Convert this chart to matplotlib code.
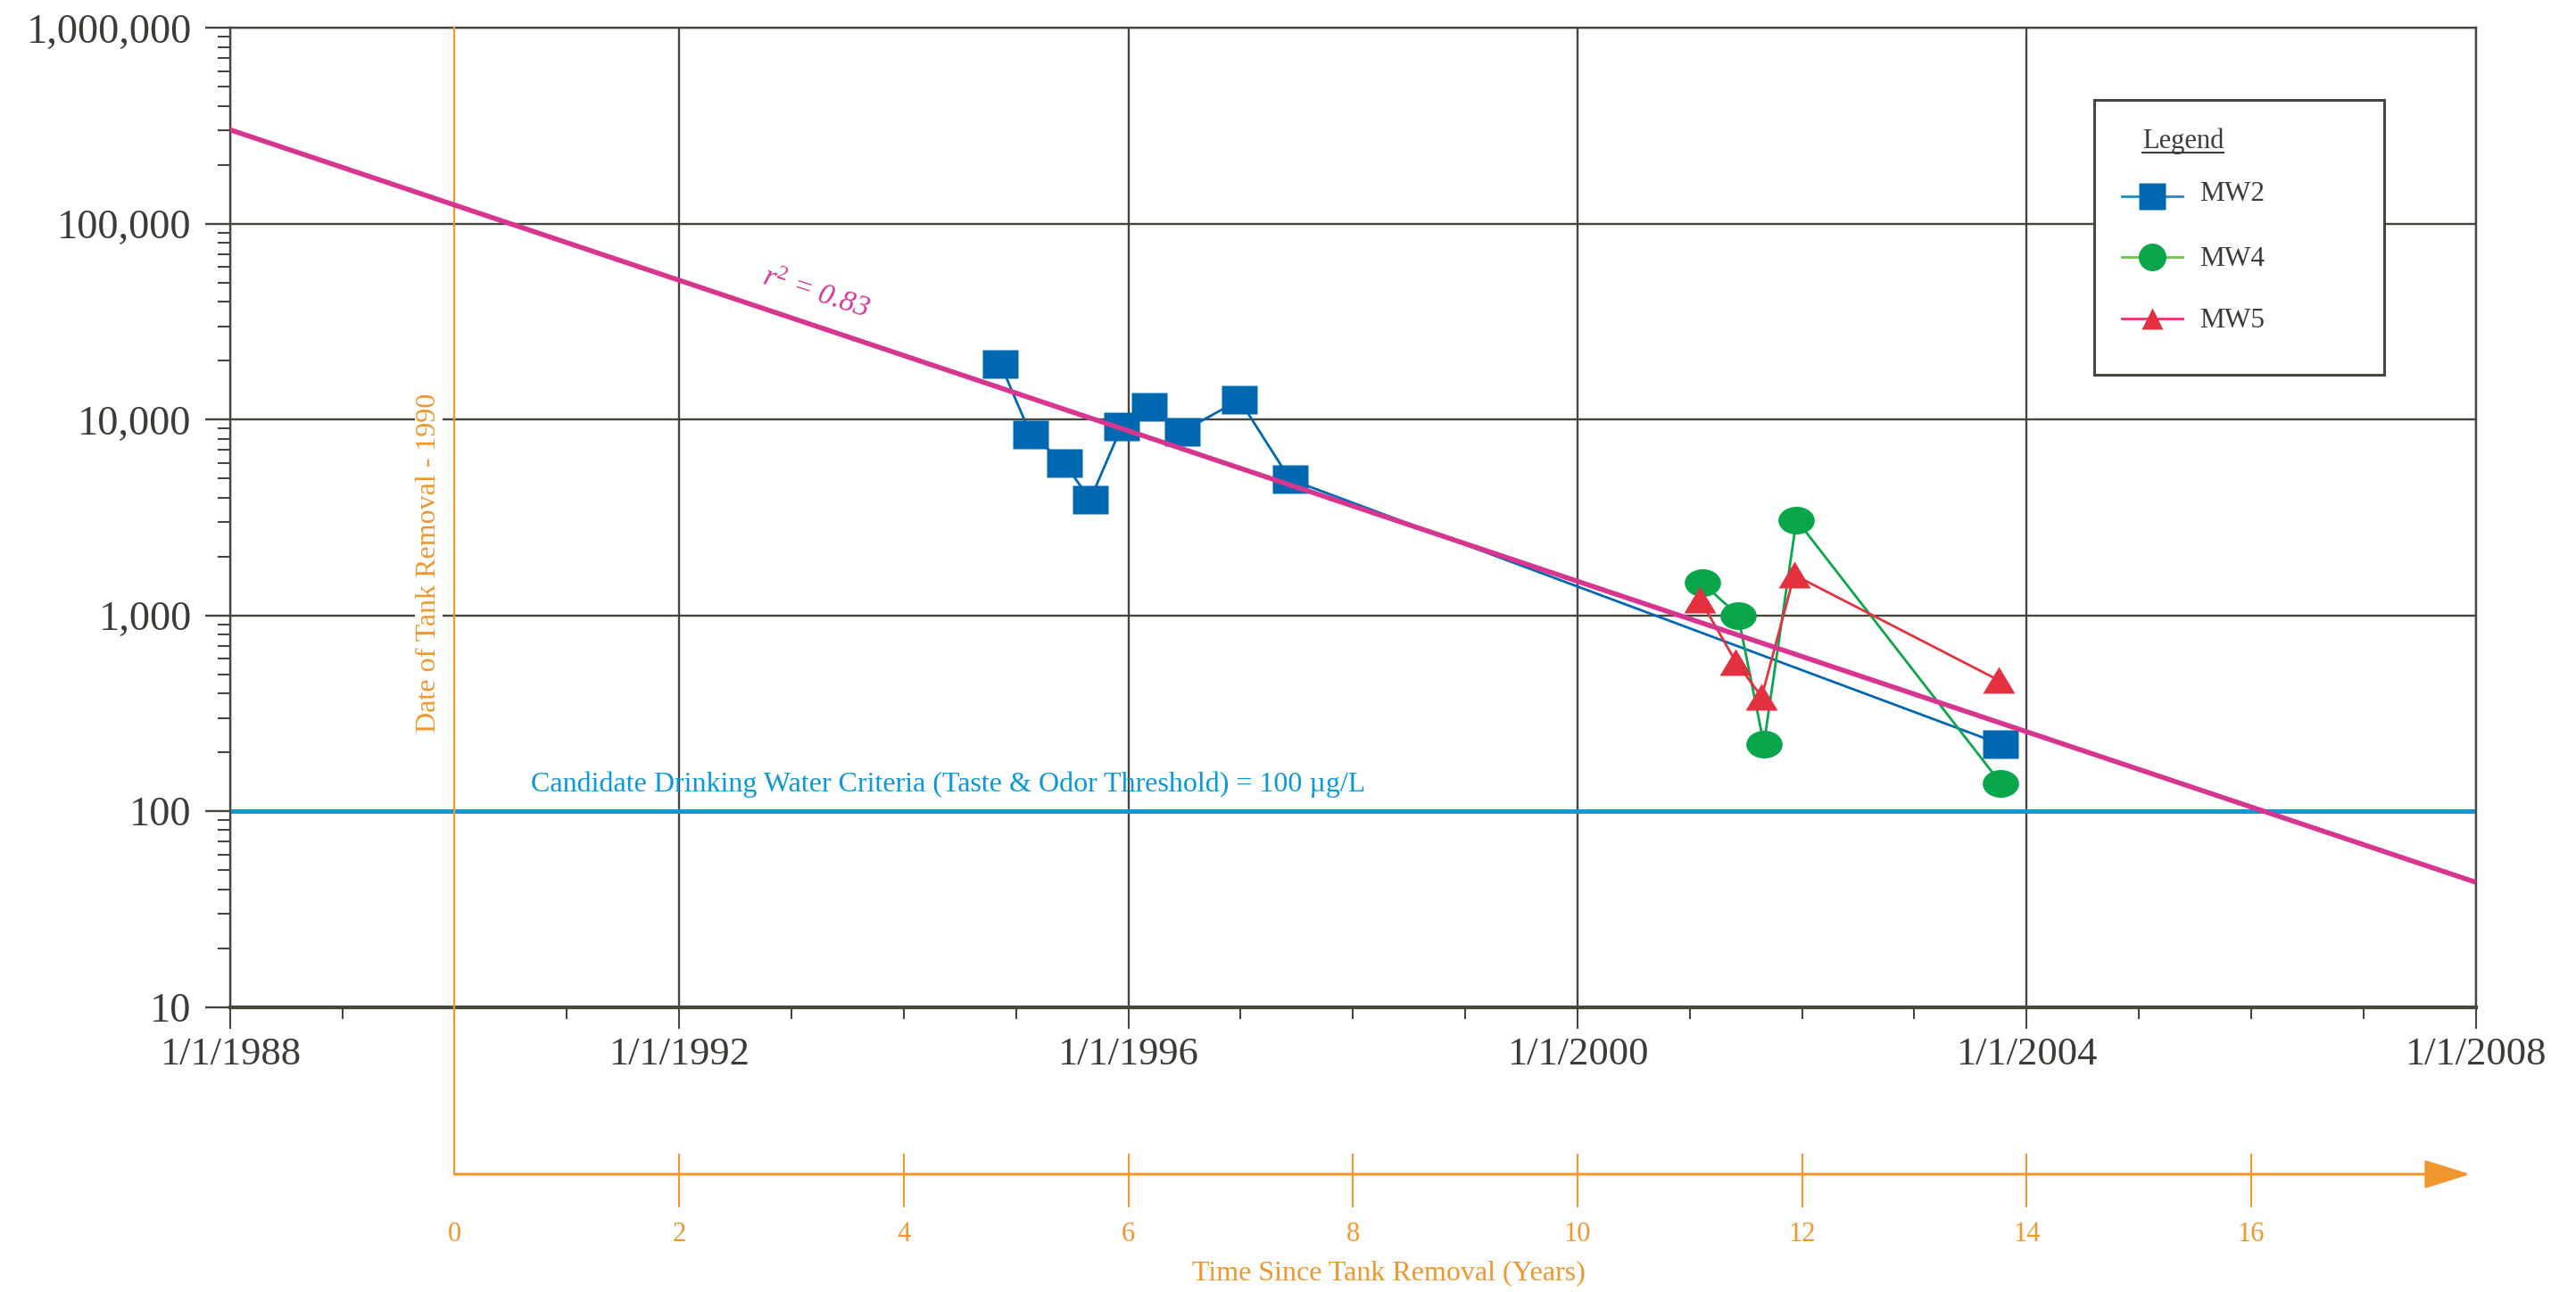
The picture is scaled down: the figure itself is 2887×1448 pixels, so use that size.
import matplotlib
matplotlib.use('Agg')
import matplotlib.pyplot as plt
import numpy as np
from matplotlib.path import Path
from matplotlib.lines import Line2D
from matplotlib.patches import Rectangle
import matplotlib.transforms as mtransforms
from matplotlib.ticker import FixedLocator, LogLocator, NullFormatter

# ---------------- data ----------------
mw2_year = [1994.86, 1995.13, 1995.43, 1995.66, 1995.94, 1996.19, 1996.48, 1996.99, 1997.44, 2003.77]
mw2_conc = [19300, 8400, 6000, 3900, 9200, 11600, 8700, 12600, 4950, 220]
mw4_year = [2001.11, 2001.43, 2001.66, 2001.95, 2003.77]
mw4_conc = [1470, 1000, 220, 3080, 139]
mw5_year = [2001.09, 2001.41, 2001.64, 2001.93, 2003.75]
mw5_conc = [1210, 580, 384, 1610, 467]
trend_year = [1988, 2008]
trend_conc = [302000, 43.4]
criteria_value = 100
tank_removal_year = 1990
r_squared = 0.83
x_tick_years = [1988, 1992, 1996, 2000, 2004, 2008]
x_tick_labels = ['1/1/1988', '1/1/1992', '1/1/1996', '1/1/2000', '1/1/2004', '1/1/2008']
x_minor_years = [y for y in range(1988, 2009) if y not in x_tick_years]
y_ticks = [10, 100, 1000, 10000, 100000, 1000000]
y_tick_labels = ['10', '100', '1,000', '10,000', '100,000', '1,000,000']
years_since_ticks = [0, 2, 4, 6, 8, 10, 12, 14, 16]
series_labels = ['MW2', 'MW4', 'MW5']

# ---------------- style ----------------
plt.rcParams['font.family'] = ['Liberation Serif', 'DejaVu Serif']
plt.rcParams['mathtext.fontset'] = 'custom'
plt.rcParams['mathtext.rm'] = 'Liberation Serif'
plt.rcParams['mathtext.it'] = 'Liberation Serif:italic'
plt.rcParams['mathtext.default'] = 'it'
DARK = '#3c3c36'
GRID = '#46463f'
ORANGE = '#f0962e'
BLUE = '#0068b0'
GREEN = '#0aa64b'
RED = '#e3313f'
MAGENTA = '#d6368f'
CYAN = '#0a98d8'

W, H = 2887, 1448
fig = plt.figure(figsize=(W / 100, H / 100), dpi=100)
ax = fig.add_axes([257.8 / W, 1 - 1128.7 / H, (2774.7 - 257.8) / W, 1097.4 / H])

ax.set_yscale('log')
ax.set_xlim(1988, 2008)
ax.set_ylim(10, 1e6)

ax.set_xticks(x_tick_years)
ax.set_xticklabels(x_tick_labels)
ax.xaxis.set_minor_locator(FixedLocator(x_minor_years))
ax.set_yticks(y_ticks)
ax.set_yticklabels(y_tick_labels)
ax.yaxis.set_minor_locator(LogLocator(base=10, subs=np.arange(2, 10)))
ax.yaxis.set_minor_formatter(NullFormatter())

ax.tick_params(axis='x', which='major', direction='out', length=17, width=1.5,
               color=GRID, labelsize=32, labelcolor=DARK, pad=7)
ax.tick_params(axis='x', which='minor', direction='out', length=9, width=1.5, color=GRID)
ax.tick_params(axis='y', which='major', direction='out', length=20, width=1.7,
               color=GRID, labelsize=33.5, labelcolor=DARK, pad=11)
ax.tick_params(axis='y', which='minor', direction='out', length=10, width=1.5, color=GRID)

ax.grid(True, which='major', color=GRID, lw=1.7)
ax.set_axisbelow(True)
for name, s in ax.spines.items():
    s.set_color(GRID)
    s.set_linewidth(1.7)
ax.spines['bottom'].set_linewidth(3)

# ---------------- markers ----------------
wide_square = Path([(-1.3, -1), (1.3, -1), (1.3, 1), (-1.3, 1), (-1.3, -1)],
                   [Path.MOVETO, Path.LINETO, Path.LINETO, Path.LINETO, Path.CLOSEPOLY])
uc = Path.unit_circle()
wide_circle = Path(uc.vertices * np.array([1.31, 1.0]), uc.codes)
wide_tri = Path([(-1.2, -1), (1.2, -1), (0, 1), (-1.2, -1)],
                [Path.MOVETO, Path.LINETO, Path.LINETO, Path.CLOSEPOLY])

# criteria line
ax.axhline(criteria_value, color=CYAN, lw=3.6, zorder=2)
ax.text(1990.68, 126.9,
        'Candidate Drinking Water Criteria (Taste & Odor Threshold) = %d \u00b5g/L' % criteria_value,
        color=CYAN, fontsize=23, ha='left', va='baseline', zorder=3)

# data series
ax.plot(mw2_year, mw2_conc, color=BLUE, lw=2, marker=wide_square, ms=29.3,
        mfc=BLUE, mec='none', zorder=4)
ax.plot(mw4_year, mw4_conc, color=GREEN, lw=2, marker=wide_circle, ms=29.3,
        mfc=GREEN, mec='none', zorder=4.1)
ax.plot(mw5_year, mw5_conc, color=RED, lw=2, marker=wide_tri, ms=25.9,
        mfc=RED, mec='none', zorder=4.2)

# trend line
ax.plot(trend_year, trend_conc, color=MAGENTA, lw=4.0, zorder=5, solid_capstyle='butt')
ax.text(1993.22, 10 ** 4.644, 'r$^{2}$ = %.2f' % r_squared, color=MAGENTA, fontsize=24,
        style='italic', rotation=-18, rotation_mode='anchor', ha='center', va='center', zorder=6)

# tank removal marker and time-since axis
blend = mtransforms.blended_transform_factory(ax.transData, ax.transAxes)
ax_h = 1097.4
loc = -(1316 - 1128.7) / ax_h
ax.plot([tank_removal_year, tank_removal_year], [1, loc], transform=blend, clip_on=False,
        color=ORANGE, lw=1.6, zorder=3)
ax.text(1989.77, 10 ** 3.267, 'Date of Tank Removal - %d' % tank_removal_year, color=ORANGE,
        fontsize=23, rotation=90, ha='center', va='center', zorder=3,
        bbox=dict(facecolor='white', edgecolor='none', pad=1))

ax.annotate('', xy=(2007.95, loc), xytext=(tank_removal_year, loc), xycoords=blend,
            textcoords=blend, annotation_clip=False,
            arrowprops=dict(arrowstyle='-|>,head_length=3.2,head_width=1.0', mutation_scale=10,
                            lw=2.2, color=ORANGE, shrinkA=0, shrinkB=0))

# orange tick marks (asymmetric: short above, longer below the time axis)
for t in years_since_ticks[1:]:
    ax.plot([t + tank_removal_year] * 2, [loc + 22 / ax_h, loc - 36 / ax_h], transform=blend,
            clip_on=False, color=ORANGE, lw=1.5, zorder=3)

sec = ax.secondary_xaxis(loc, functions=(lambda x: x - tank_removal_year,
                                         lambda x: x + tank_removal_year))
sec.set_xticks(years_since_ticks)
sec.set_xticklabels([str(v) for v in years_since_ticks])
sec.tick_params(axis='x', which='major', direction='out', length=0, width=0,
                labelcolor=ORANGE, labelsize=22, pad=38.5)
sec.tick_params(axis='x', which='minor', length=0)
for s in sec.spines.values():
    s.set_visible(False)
ax.text(1998.32, -(1427 - 1128.7) / ax_h, 'Time Since Tank Removal (Years)', transform=blend,
        color=ORANGE, fontsize=23, ha='center', va='center')

# ---------------- legend (manual box) ----------------
def fx(px):
    return px / W


def fy(py):
    return 1 - py / H


fig.add_artist(Rectangle((fx(2347), fy(420)), fx(2672) - fx(2347), fy(111.7) - fy(420),
                         transform=fig.transFigure, facecolor='white', edgecolor=GRID,
                         lw=2.2, zorder=10))
title = fig.text(fx(2401), fy(166), 'Legend', fontsize=22, color=DARK, ha='left',
                 va='baseline', zorder=11)

leg_line_colors = ['#1a8fd0', '#6cc24a', '#e8336a']
leg_marker_colors = [BLUE, GREEN, RED]
leg_markers = ['s', 'o', '^']
leg_ms = [21.6, 22.3, 17]
leg_y = [220, 287.7, 356.7]
leg_base = [225, 298.3, 367.3]
for lab, lc, mc, mk, ms, yy, yb in zip(series_labels, leg_line_colors, leg_marker_colors,
                                         leg_markers, leg_ms, leg_y, leg_base):
    fig.add_artist(Line2D([fx(2377.7), fx(2445.7)], [fy(yy), fy(yy)], transform=fig.transFigure,
                          color=lc, lw=2, zorder=11))
    fig.add_artist(Line2D([fx(2411.7)], [fy(yy)], transform=fig.transFigure, marker=mk, ms=ms,
                          mfc=mc, mec='none', ls='none', zorder=12))
    fig.text(fx(2465), fy(yb), lab, fontsize=22.5, color=DARK, ha='left', va='baseline', zorder=12)

fig.canvas.draw()
bb = title.get_window_extent()
uy = H - 171
fig.add_artist(Line2D([bb.x0, bb.x1], [uy, uy], transform=mtransforms.IdentityTransform(),
                      color=DARK, lw=1.5, zorder=12))

fig.savefig('out.png', dpi=100, facecolor='white')
